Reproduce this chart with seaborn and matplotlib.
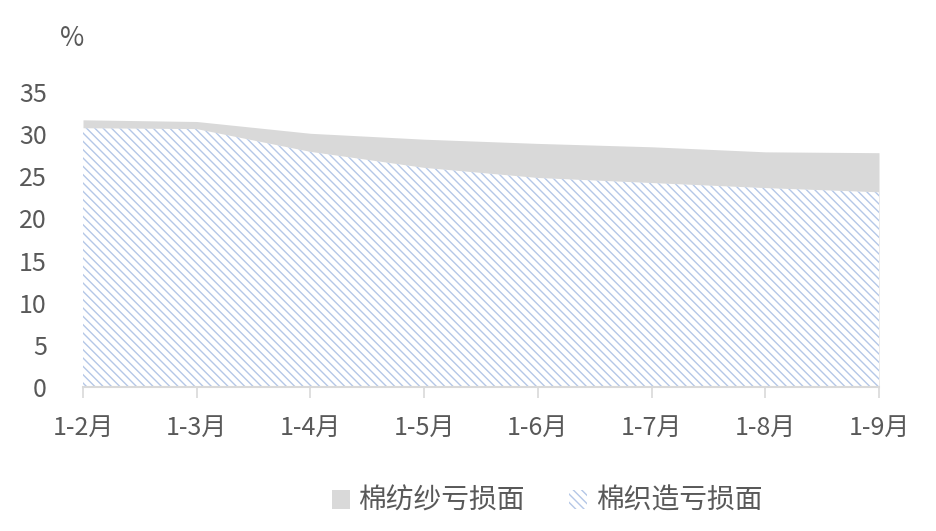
import numpy as np
import pandas as pd
import seaborn as sns
from matplotlib import pyplot as plt
from matplotlib.patches import Patch

months = ["1-2月", "1-3月", "1-4月", "1-5月", "1-6月", "1-7月", "1-8月", "1-9月"]
yarn_loss = [31.7, 31.5, 30.1, 29.4, 28.9, 28.5, 27.9, 27.8]
weave_loss = [30.7, 30.6, 27.9, 26.0, 24.8, 24.2, 23.6, 23.1]

GRAY = "#d9d9d9"
BLUE = "#b4c7e7"
TEXT = "#595959"


def main():
    sns.set_theme(style="white")
    plt.rcParams['font.family'] = ['Noto Sans CJK SC', 'DejaVu Sans']
    plt.rcParams['hatch.linewidth'] = 1.0
    plt.rcParams['hatch.color'] = BLUE

    df = pd.DataFrame({"month": months, "yarn": yarn_loss, "weave": weave_loss})
    x = np.arange(len(df))

    fig = plt.figure(figsize=(9.37, 5.31), dpi=100)
    ax = fig.add_axes([83 / 937, 144 / 531, 796 / 937, 295 / 531])

    ax.fill_between(x, 0, df["yarn"], color=GRAY, linewidth=0)
    ax.fill_between(x, 0, df["weave"], facecolor="white", edgecolor=BLUE,
                    hatch="\\\\\\\\", linewidth=0)
    sns.lineplot(x=x, y=df["yarn"], ax=ax, color=GRAY, linewidth=0)

    ax.set_xlim(0, len(df) - 1)
    ax.set_ylim(0, 35)
    ax.set_yticks(range(0, 36, 5))
    ax.set_xticks(x)
    ax.set_xticklabels(df["month"])
    ax.tick_params(axis='y', length=0, pad=26, labelsize=18, labelcolor=TEXT)
    ax.tick_params(axis='x', length=8, width=1.2, color=GRAY, pad=12,
                   labelsize=18, labelcolor=TEXT, bottom=True)
    for lbl in ax.get_yticklabels():
        lbl.set_horizontalalignment('right')
    for s in ["top", "right", "left"]:
        ax.spines[s].set_visible(False)
    ax.spines["bottom"].set_color(GRAY)
    ax.spines["bottom"].set_linewidth(1.5)
    ax.set_ylabel("")
    ax.set_xlabel("")

    fig.text(72 / 937, 1 - 38 / 531, "%", ha="center", va="center",
             fontsize=19, color=TEXT)

    handles = [Patch(facecolor=GRAY, edgecolor="none", label="棉纺纱亏损面"),
               Patch(facecolor="white", edgecolor=BLUE, hatch="\\\\\\\\",
                     linewidth=0, label="棉织造亏损面")]
    fig.legend(handles=handles, loc="center", bbox_to_anchor=(547 / 937, 1 - 501 / 531),
               ncol=2, frameon=False, fontsize=20, labelcolor=TEXT,
               handlelength=0.65, handleheight=0.65, handletextpad=0.3, columnspacing=1.6)

    fig.savefig("out.png", dpi=100)


if __name__ == '__main__':
    main()
